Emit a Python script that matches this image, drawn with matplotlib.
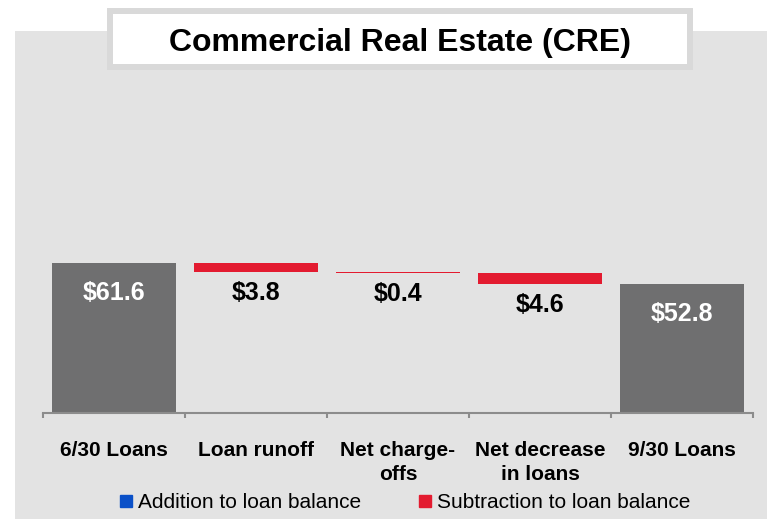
import matplotlib
matplotlib.use('Agg')
import matplotlib.pyplot as plt
import numpy as np
from matplotlib.patches import Rectangle
from matplotlib.lines import Line2D

plt.rcParams['font.family'] = ['Liberation Sans', 'DejaVu Sans']

# data
categories = ['6/30 Loans', 'Loan runoff', 'Net charge-\noffs', 'Net decrease\nin loans', '9/30 Loans']
start_total = 61.6
changes = [-3.8, -0.4, -4.6]
end_total = 52.8
legend_labels = ['Addition to loan balance', 'Subtraction to loan balance']

bg = '#e3e3e3'
gray = '#6f6f70'
red = '#e31b30'
blue = '#0a50c8'

W, H = 767, 519
fig = plt.figure(figsize=(W / 100, H / 100), dpi=100)
fig.patch.set_facecolor('white')

# gray panel behind everything
fig.patches.append(Rectangle((15 / W, 0), 1 - 15 / W, 1 - 31 / H, transform=fig.transFigure,
                             facecolor=bg, edgecolor='none', zorder=-5))
# title box
fig.patches.append(Rectangle((110 / W, 1 - 67 / H), 580 / W, 56 / H, transform=fig.transFigure,
                             facecolor='white', edgecolor='#d9d9d9', linewidth=4.3, zorder=-4))
fig.text(400 / W, 1 - 43 / H, 'Commercial Real Estate (CRE)', ha='center', va='center',
         fontsize=23, fontweight='bold', color='black', zorder=5)

ax_bottom = 412.7
ax_top = 100
ax = fig.add_axes([43 / W, (H - ax_bottom) / H, 710 / W, (ax_bottom - ax_top) / H])
ax.set_facecolor('none')
ymax = start_total * (ax_bottom - ax_top) / 149.7
ax.set_ylim(0, ymax)
ax.set_xlim(-0.5, 4.5)

x = np.arange(len(categories))
width = 0.873

# totals
ax.bar([0, 4], [start_total, end_total], width=width, color=gray, zorder=2)
# waterfall steps
level = start_total
for i, c in enumerate(changes):
    new_level = level + c
    ax.bar(i + 1, level - new_level, bottom=new_level, width=width, color=red, zorder=2)
    ax.annotate('$%.1f' % abs(c), (i + 1, new_level), xytext=(0, -15), textcoords='offset points',
                ha='center', va='center', fontsize=18, fontweight='bold', color='black')
    level = new_level

for xi, v in zip([0, 4], [start_total, end_total]):
    ax.annotate('$%.1f' % v, (xi, v), xytext=(0, -21.5), textcoords='offset points',
                ha='center', va='center', fontsize=18, fontweight='bold', color='white')

for s in ['top', 'left', 'right']:
    ax.spines[s].set_visible(False)
ax.spines['bottom'].set_color('#8c8c8c')
ax.spines['bottom'].set_linewidth(1.5)
ax.set_yticks([])
ax.set_xticks(x)
ax.set_xticklabels(categories, fontsize=15, fontweight='bold', linespacing=1.3)
ax.set_xticks(np.arange(-0.5, 5, 1), minor=True)
ax.tick_params(axis='x', which='major', length=0, pad=20.5)
ax.tick_params(axis='x', which='minor', length=3.5, width=1.5, color='#8c8c8c', direction='out')

handles = [Line2D([], [], marker='s', linestyle='none', markersize=8, color=blue),
           Line2D([], [], marker='s', linestyle='none', markersize=8, color=red)]
fig.legend(handles, legend_labels, loc='center', bbox_to_anchor=(405 / W, 1 - 503 / H), ncol=2,
           frameon=False, fontsize=15, handlelength=0.6, handletextpad=0.25, columnspacing=2.8,
           borderpad=0, borderaxespad=0)

fig.savefig('out.png', dpi=100)
